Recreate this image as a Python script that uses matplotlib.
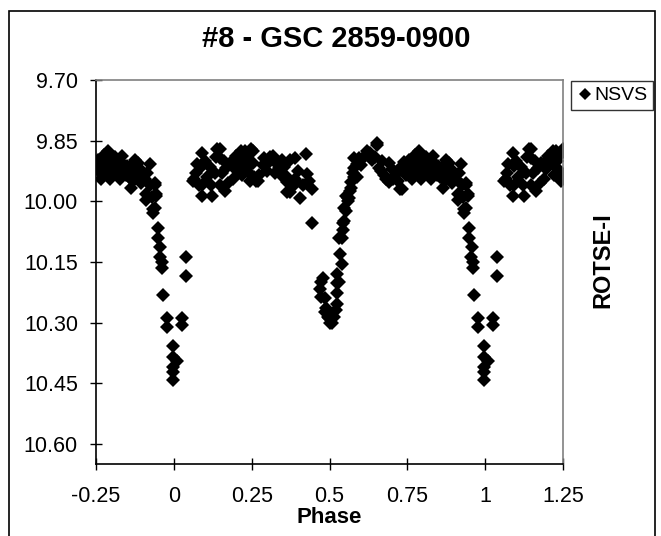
import matplotlib
matplotlib.use('Agg')
import matplotlib.pyplot as plt
from matplotlib.patches import Rectangle
from matplotlib.lines import Line2D

plt.rcParams['font.family'] = ['Liberation Sans', 'DejaVu Sans']

title = '#8 - GSC 2859-0900'
x_label = 'Phase'
y_label = 'ROTSE-I'
series_name = 'NSVS'

phase = [
    # before primary minimum
    -0.245, -0.248, -0.229, -0.213, -0.206, -0.184, -0.168, -0.174, -0.152, -0.133,
    -0.136, -0.126, -0.110, -0.094, -0.078, -0.062, -0.088, -0.056, -0.062, -0.068,
    -0.100, -0.062, -0.088, -0.056, -0.068, -0.235, -0.220, -0.200, -0.190, -0.160,
    -0.145, -0.120, -0.105, -0.230, -0.195, -0.115, -0.240, -0.225, -0.215, -0.200,
    -0.185, -0.175, -0.165, -0.155, -0.140, -0.130, -0.120, -0.100, -0.085, -0.075,
    -0.070, -0.235, -0.205,
    # primary minimum
    -0.052, -0.052, -0.043, -0.046, -0.039, -0.039, -0.036, -0.023, -0.023, -0.004,
    0.009, -0.004, -0.004, -0.004, -0.004, 0.025, 0.025, 0.038, 0.038,
    # first maximum
    0.089, 0.073, 0.060, 0.089, 0.124, 0.147, 0.147, 0.163, 0.201, 0.227,
    0.253, 0.243, 0.265, 0.317, 0.330, 0.362, 0.362, 0.092, 0.066, 0.092,
    0.140, 0.131, 0.147, 0.169, 0.189, 0.217, 0.204, 0.236, 0.249, 0.233,
    0.259, 0.269, 0.307, 0.291, 0.339, 0.372, 0.388, 0.349, 0.388, 0.426,
    0.362, 0.394, 0.445, 0.372, 0.404, 0.429, 0.445, 0.070, 0.080, 0.100,
    0.105, 0.115, 0.120, 0.135, 0.155, 0.160, 0.175, 0.180, 0.195, 0.210,
    0.220, 0.230, 0.245, 0.255, 0.275, 0.285, 0.300, 0.310, 0.325, 0.345,
    0.355, 0.380, 0.400, 0.415, 0.435,
    # secondary minimum
    0.539, 0.539, 0.525, 0.525, 0.478, 0.468, 0.474, 0.490, 0.494, 0.516,
    0.525, 0.525, 0.500, 0.509, 0.485, 0.497, 0.505, 0.520, 0.530, 0.535,
    0.472, 0.485,
    # second maximum
    0.532, 0.542, 0.548, 0.554, 0.548, 0.558, 0.554, 0.564, 0.570, 0.570,
    0.580, 0.580, 0.587, 0.580, 0.596, 0.619, 0.619, 0.651, 0.651, 0.638,
    0.660, 0.667, 0.683, 0.692, 0.715, 0.725, 0.734, 0.718, 0.740, 0.587,
    0.542, 0.600, 0.610, 0.630, 0.645, 0.670, 0.675, 0.700, 0.705, 0.690,
    0.720, 0.730, 0.745, 0.575, 0.565, 0.560,
]
mag = [
    9.899, 9.919, 9.919, 9.875, 9.944, 9.919, 9.887, 9.944, 9.912, 9.929,
    9.966, 9.899, 9.919, 9.944, 9.907, 9.961, 9.998, 9.986, 10.016, 10.030,
    9.932, 9.956, 9.981, 9.981, 10.018, 9.930, 9.900, 9.910, 9.890, 9.930,
    9.940, 9.940, 9.955, 9.895, 9.935, 9.905, 9.910, 9.885, 9.930, 9.925,
    9.900, 9.915, 9.905, 9.935, 9.915, 9.950, 9.925, 9.945, 9.930, 9.960,
    9.990, 9.945, 9.900,
    10.067, 10.090, 10.114, 10.139, 10.151, 10.166, 10.233, 10.290, 10.312, 10.357,
    10.394, 10.386, 10.411, 10.423, 10.443, 10.288, 10.307, 10.139, 10.184,
    9.880, 9.907, 9.949, 9.986, 9.986, 9.870, 9.894, 9.974, 9.887, 9.875,
    9.875, 9.929, 9.949, 9.887, 9.907, 9.953, 9.978, 9.912, 9.944, 9.961,
    9.870, 9.929, 9.961, 9.917, 9.944, 9.875, 9.894, 9.887, 9.870, 9.919,
    9.941, 9.949, 9.904, 9.894, 9.917, 9.899, 9.944, 9.899, 9.894, 9.882,
    9.941, 9.949, 9.969, 9.978, 9.991, 9.932, 10.053, 9.930, 9.960, 9.900,
    9.940, 9.915, 9.960, 9.890, 9.930, 9.900, 9.955, 9.905, 9.920, 9.905,
    9.935, 9.900, 9.950, 9.905, 9.935, 9.910, 9.925, 9.890, 9.930, 9.935,
    9.915, 9.965, 9.925, 9.960, 9.950,
    10.092, 10.154, 10.179, 10.203, 10.191, 10.216, 10.238, 10.263, 10.287, 10.287,
    10.253, 10.228, 10.302, 10.300, 10.240, 10.290, 10.280, 10.270, 10.200, 10.130,
    10.200, 10.275,
    10.090, 10.053, 10.048, 10.023, 10.016, 9.991, 9.986, 9.991, 9.966, 9.953,
    9.941, 9.917, 9.907, 9.892, 9.894, 9.882, 9.875, 9.862, 9.857, 9.899,
    9.917, 9.924, 9.944, 9.953, 9.932, 9.969, 9.969, 9.929, 9.904, 9.941,
    10.072, 9.910, 9.890, 9.880, 9.890, 9.900, 9.935, 9.920, 9.945, 9.905,
    9.950, 9.915, 9.935, 9.930, 9.975, 10.000,
]

x_ticks = [-0.25, 0, 0.25, 0.5, 0.75, 1, 1.25]
x_tick_labels = ['-0.25', '0', '0.25', '0.5', '0.75', '1', '1.25']
y_ticks = [9.70, 9.85, 10.00, 10.15, 10.30, 10.45, 10.60]
y_tick_labels = ['9.70', '9.85', '10.00', '10.15', '10.30', '10.45', '10.60']

# the chart repeats the first quarter of the cycle after phase 1
plot_phase = list(phase) + [p + 1 for p in phase if p < 0.25]
plot_mag = list(mag) + [m for p, m in zip(phase, mag) if p < 0.25]

W, H = 661, 536
fig = plt.figure(figsize=(W / 100, H / 100), dpi=100)
ax = fig.add_axes([96 / W, 1 - 464 / H, (563 - 96) / W, (464 - 80) / H])

ax.plot(plot_phase, plot_mag, ls='none', marker='D', ms=6.8, color='black', mew=0)

ax.set_xlim(-0.25, 1.25)
ax.set_ylim(10.65, 9.70)
ax.set_xticks(x_ticks)
ax.set_xticklabels(x_tick_labels)
ax.set_yticks(y_ticks)
ax.set_yticklabels(y_tick_labels)
ax.tick_params(direction='inout', length=8, width=1, labelsize=15.5, colors='black')
ax.tick_params(axis='x', pad=12)
ax.tick_params(axis='y', pad=9)

for side in ['top', 'right']:
    ax.spines[side].set_color('#808080')
for side in ['left', 'bottom']:
    ax.spines[side].set_color('black')
for s in ax.spines.values():
    s.set_linewidth(1.2)

ax.set_xlabel(x_label, fontsize=16, fontweight='bold', labelpad=0)
fig.text(603 / W, 1 - 260 / H, y_label, rotation=90, ha='center', va='center',
         fontsize=17, fontweight='bold')
fig.text(336 / W, 1 - 39 / H, title, ha='center', va='center', fontsize=21, fontweight='bold')

handle = Line2D([], [], ls='none', marker='D', ms=6.5, color='black', mew=0)
leg = fig.legend([handle], [series_name], loc='upper left',
                 bbox_to_anchor=(571 / W, 1 - 81 / H), borderaxespad=0,
                 fontsize=14, frameon=True, fancybox=False, handlelength=0.8,
                 handletextpad=0.1, borderpad=0.3)
leg.get_frame().set_edgecolor('black')
leg.get_frame().set_linewidth(1)

fig.patches.append(Rectangle((9 / W, -0.02), (655 - 9) / W, 1.02 - 11 / H,
                             transform=fig.transFigure, fill=False, ec='black', lw=1.2))

fig.savefig('out.png', dpi=100)
